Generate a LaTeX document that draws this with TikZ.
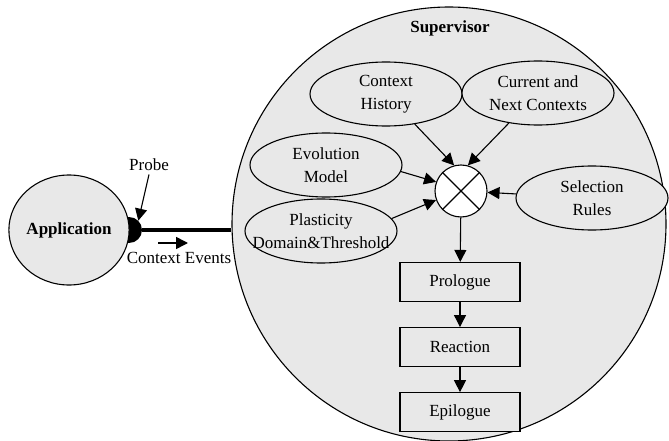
\documentclass[tikz,border=0pt]{standalone}
\usepackage{fontspec}
\setmainfont{Liberation Serif}
\usetikzlibrary{shapes.geometric,arrows.meta,positioning}
\begin{document}
\begin{tikzpicture}[x=1pt,y=-1pt,font=\fontsize{17}{23}\selectfont,
		gfill/.style={draw,line width=1.1pt,fill=black!9},
		ell/.style={gfill,ellipse,minimum width=152pt,minimum height=64pt,inner sep=0pt},
		box/.style={gfill,rectangle,minimum width=120pt,minimum height=39pt},
		arr/.style={line width=1.1pt,-{Triangle[length=12pt,width=12pt]}}]
				\useasboundingbox (0,0) rectangle (669,441);
				\node[gfill,circle,minimum size=434pt] (sup) at (449,224) {};
				\node[font=\fontsize{17}{23}\selectfont\bfseries] (suplbl) at (450,28) {Supervisor};
				\node[circle,fill=black,minimum size=26pt,inner sep=0pt] (probe) at (129,230) {};
				\node[gfill,ellipse,minimum width=120pt,minimum height=110pt,inner sep=0pt,
					font=\fontsize{17}{23}\selectfont\bfseries] (app) at (69,230) {Application};
				\draw[line width=3.5pt] (probe.east) -- (probe.east -| sup.west);
				\node[ell] (hist) at (386,94) {};\node[ell] (next) at (538,93) {};
				\node[ell] (evol) at (326,165) {};\node[ell] (plast) at (321,231) {};
				\node[ell] (sel) at (592,198) {};
				\foreach\n/\t in {hist/{Context\\History},next/{Current and\\Next Contexts},
					evol/{Evolution\\Model},plast/{Plasticity\\Domain\&Threshold},sel/{Selection\\Rules}}
					\node[align=center] (\n-t) at (\n) {\t};
				\node[circle,draw,line width=1.1pt,fill=white,minimum size=52pt] (cross) at (461,191) {};
				\draw[line width=1.1pt] (cross.45)--(cross.225) (cross.135)--(cross.315);
				\node[box] (pro) at (460,282) {Prologue};
				\node[box,below=25pt of pro] (rea) {Reaction};
				\node[box,below=25pt of rea] (epi) {Epilogue};
				\draw[arr] (hist)--(cross.105); \draw[arr] (next)--(cross.75);
				\draw[arr] (evol.-5)--(cross.160); \draw[arr] (plast.10)--(cross.200);
				\draw[arr] (sel)--(cross);
				\draw[arr] (cross)--(pro); \draw[arr] (pro)--(rea); \draw[arr] (rea)--(epi);
				\node (prlbl) at (149,165) {Probe};
				\draw[arr] (prlbl.south)--(probe.45);
				\node (evlbl) at (179,258) {Context Events};
				\coordinate (evA) at (158,243); \coordinate (evB) at (188,243);
				\draw[arr,line width=1.6pt] (evA)--(evB);
\end{tikzpicture}
\end{document}
